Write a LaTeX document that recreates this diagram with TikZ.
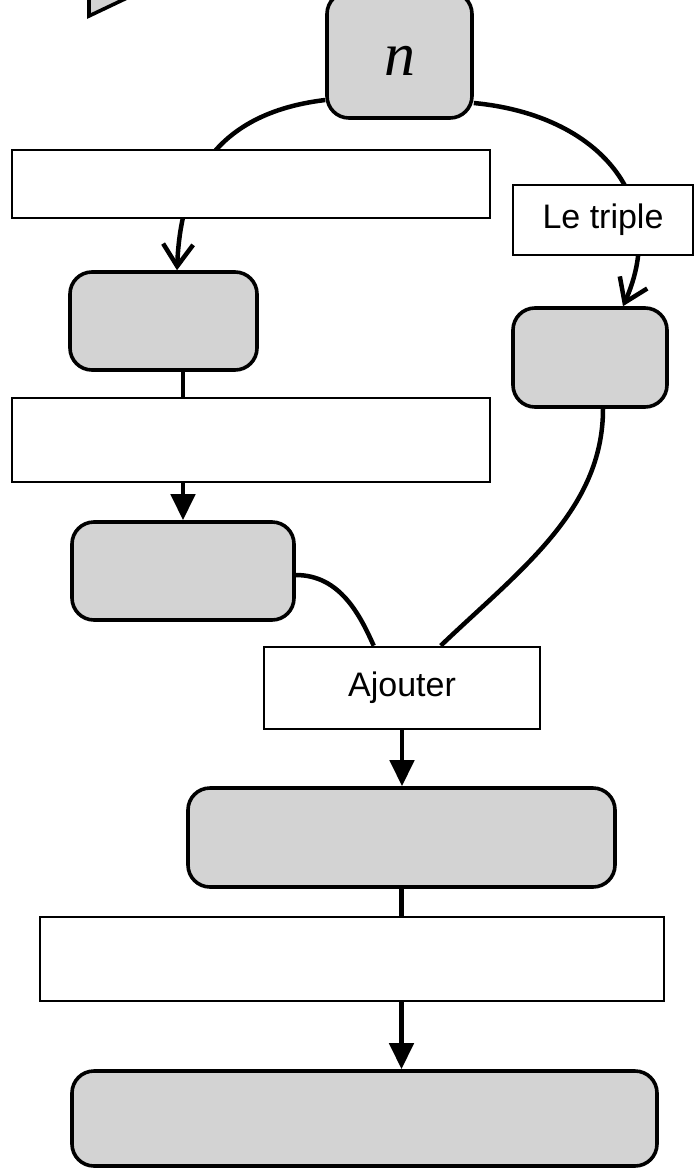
\documentclass[tikz,border=0pt]{standalone}
\usepackage{fontspec}
\setmainfont{Liberation Sans}
\newfontfamily\serifit{Liberation Serif}
\usetikzlibrary{arrows.meta,calc,backgrounds}
\definecolor{boxgray}{RGB}{211,211,211}
\begin{document}
\begin{tikzpicture}[x=1pt,y=-1pt,
  rbox/.style={draw,line width=3.6pt,fill=boxgray,rounded corners=22pt,inner sep=0pt},
  wbox/.style={draw,line width=2.6pt,fill=white,inner sep=0pt,font=\fontsize{34}{40}\selectfont},
  conn/.style={line width=4.5pt},
  openarr/.style={conn,-{Straight Barb[length=22pt,width=30pt]}},
  fillarr/.style={conn,-{Triangle[length=26pt,width=24pt]}}]
\useasboundingbox (0,0) rectangle (696,1170);
\clip (0,0) rectangle (696,1170);
% partial shape at top left
\draw[line width=3.6pt,fill=boxgray,line join=miter] (89,-4) -- (89,16) -- (129,-3) -- cycle;
% nodes
\node[rbox,minimum width=145pt,minimum height=126pt,font=\serifit\itshape\fontsize{62}{70}\selectfont] (n) at (399.5,55) {\raisebox{-20pt}[0pt][0pt]{n}};
\node[wbox,minimum width=478pt,minimum height=68pt] (t1) at (251,184) {};
\node[wbox,minimum width=180pt,minimum height=70pt] (t2) at (603,220) {Le triple};
\node[rbox,minimum width=187pt,minimum height=98pt] (r1) at (163.5,321) {};
\node[rbox,minimum width=154pt,minimum height=99pt] (r2) at (590,357.5) {};
\node[wbox,minimum width=478pt,minimum height=84pt] (t3) at (251,440) {};
\node[rbox,minimum width=222pt,minimum height=98pt] (r3) at (183,571) {};
\node[wbox,minimum width=276pt,minimum height=82pt] (aj) at (402,688) {Ajouter};
\node[rbox,minimum width=427pt,minimum height=99pt] (r4) at (401.5,837.5) {};
\node[wbox,minimum width=624pt,minimum height=84pt] (t4) at (352,959) {};
\node[rbox,minimum width=585pt,minimum height=95pt] (r5) at (364.5,1118.5) {};
\coordinate (ajl) at ($(aj.north west)+(111,0)$);
\coordinate (ajr) at ($(aj.north west)+(178,0)$);
% connectors
\begin{scope}[on background layer]
\draw[openarr] ([yshift=-45pt]n.west) .. controls (200,115) and (180,200) .. ([xshift=13.5pt]r1.north);
\draw[openarr] ([yshift=-48pt]n.east) .. controls (600,115) and (670,200) .. ([xshift=33pt]r2.north);
\draw[fillarr] (r1.south -| r3.north) -- (r3.north);
\draw[conn] ([yshift=-4pt]r3.east) .. controls (340,575) and (360,615) .. (ajl);
\draw[conn] ([xshift=13pt]r2.south) .. controls (603,510) and (520,570) .. (ajr);
\draw[fillarr] (aj.south) -- (aj.south |- r4.north);
\draw[fillarr] (r4.south) -- (r4.south |- r5.north);
\end{scope}
\end{tikzpicture}
\end{document}
